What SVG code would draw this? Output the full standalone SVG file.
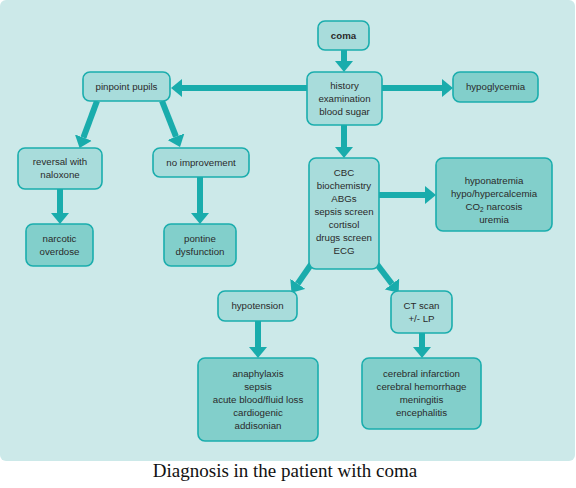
<svg xmlns="http://www.w3.org/2000/svg" width="576" height="488" viewBox="0 0 576 488">
<style>
.bg{fill:#cce9e9}
.n{fill:#a8dcdb;stroke:#1aadad;stroke-width:1.6}
.d{fill:#82cfcb;stroke:#1aadad;stroke-width:1.6}
.t{font-family:"Liberation Sans","DejaVu Sans",sans-serif;font-size:9.7px;fill:#2a2a2a;text-anchor:middle}
.b{font-weight:bold}
.c line{stroke:#19acac;stroke-width:6;marker-end:url(#ah)}
.cap{font-family:"Liberation Serif","Times New Roman",serif;font-size:19px;fill:#111;text-anchor:middle}
</style>
<defs>
<marker id="ah" markerUnits="userSpaceOnUse" markerWidth="11" markerHeight="18" refX="0" refY="9" orient="auto" viewBox="0 0 11 18">
<path d="M0,0 L11,9 L0,18 Z" fill="#19acac"/>
</marker>
</defs>
<rect class="bg" x="0" y="0" width="575" height="461" rx="6"/>
<g class="c">
<line x1="344" y1="50" x2="344" y2="61"/>
<line x1="307" y1="88" x2="182" y2="88"/>
<line x1="381" y1="88" x2="442" y2="88"/>
<line x1="344" y1="125" x2="344" y2="147"/>
<line x1="97" y1="101" x2="83.4" y2="137.6"/>
<line x1="162" y1="101" x2="176" y2="136.7"/>
<line x1="60" y1="189" x2="60" y2="213"/>
<line x1="200" y1="177" x2="200" y2="213"/>
<line x1="379" y1="195" x2="425" y2="195"/>
<line x1="312" y1="263" x2="297.7" y2="283.8"/>
<line x1="376" y1="263" x2="392" y2="284"/>
<line x1="258" y1="321" x2="258" y2="347"/>
<line x1="422" y1="333" x2="422" y2="347"/>
</g>
<g id="coma"><rect class="n" x="318" y="21" width="51" height="29" rx="7"/><text class="t b" x="343.5" y="39">coma</text></g>
<g id="history"><rect class="n" x="307" y="72" width="75" height="53" rx="7"/><text class="t" x="344.5" y="89">history</text><text class="t" x="344.5" y="102">examination</text><text class="t" x="344.5" y="115">blood sugar</text></g>
<g id="pinpoint"><rect class="n" x="83" y="72" width="87" height="29" rx="7"/><text class="t" x="126.5" y="90">pinpoint pupils</text></g>
<g id="hypoglycemia"><rect class="d" x="453" y="72" width="85" height="30" rx="7"/><text class="t" x="495.5" y="90">hypoglycemia</text></g>
<g id="reversal"><rect class="n" x="18" y="148" width="84" height="41" rx="7"/><text class="t" x="60" y="165">reversal with</text><text class="t" x="60" y="178">naloxone</text></g>
<g id="noimprovement"><rect class="n" x="153" y="148" width="96" height="29" rx="7"/><text class="t" x="201" y="166">no improvement</text></g>
<g id="narcotic"><rect class="d" x="26" y="224" width="67" height="42" rx="7"/><text class="t" x="59.5" y="242">narcotic</text><text class="t" x="59.5" y="255">overdose</text></g>
<g id="pontine"><rect class="d" x="164" y="224" width="72" height="42" rx="7"/><text class="t" x="200" y="242">pontine</text><text class="t" x="200" y="255">dysfunction</text></g>
<g id="cbc"><rect class="n" x="309" y="158" width="70" height="111" rx="7"/>
<text class="t" x="344" y="176">CBC</text><text class="t" x="344" y="189">biochemistry</text><text class="t" x="344" y="202">ABGs</text><text class="t" x="344" y="215">sepsis screen</text><text class="t" x="344" y="228">cortisol</text><text class="t" x="344" y="241">drugs screen</text><text class="t" x="344" y="254">ECG</text></g>
<g id="hyponatremia"><rect class="d" x="436" y="158" width="116" height="73" rx="7"/>
<text class="t" x="494" y="184">hyponatremia</text><text class="t" x="494" y="197">hypo/hypercalcemia</text><text class="t" x="494" y="210">CO<tspan font-size="6.5" dy="2">2</tspan><tspan dy="-2"> narcosis</tspan></text><text class="t" x="494" y="223">uremia</text></g>
<g id="hypotension"><rect class="n" x="218" y="291" width="79" height="30" rx="7"/><text class="t" x="257.5" y="309">hypotension</text></g>
<g id="ctscan"><rect class="n" x="391" y="291" width="61" height="42" rx="7"/><text class="t" x="421.5" y="309">CT scan</text><text class="t" x="421.5" y="322">+/- LP</text></g>
<g id="anaphylaxis"><rect class="d" x="198" y="358" width="120" height="83" rx="7"/>
<text class="t" x="258" y="377">anaphylaxis</text><text class="t" x="258" y="390">sepsis</text><text class="t" x="258" y="403">acute blood/fluid loss</text><text class="t" x="258" y="416">cardiogenic</text><text class="t" x="258" y="429">addisonian</text></g>
<g id="cerebral"><rect class="d" x="362" y="358" width="119" height="71" rx="7"/>
<text class="t" x="421.5" y="377">cerebral infarction</text><text class="t" x="421.5" y="390">cerebral hemorrhage</text><text class="t" x="421.5" y="403">meningitis</text><text class="t" x="421.5" y="416">encephalitis</text></g>
<text class="cap" x="285" y="477">Diagnosis in the patient with coma</text>
</svg>
